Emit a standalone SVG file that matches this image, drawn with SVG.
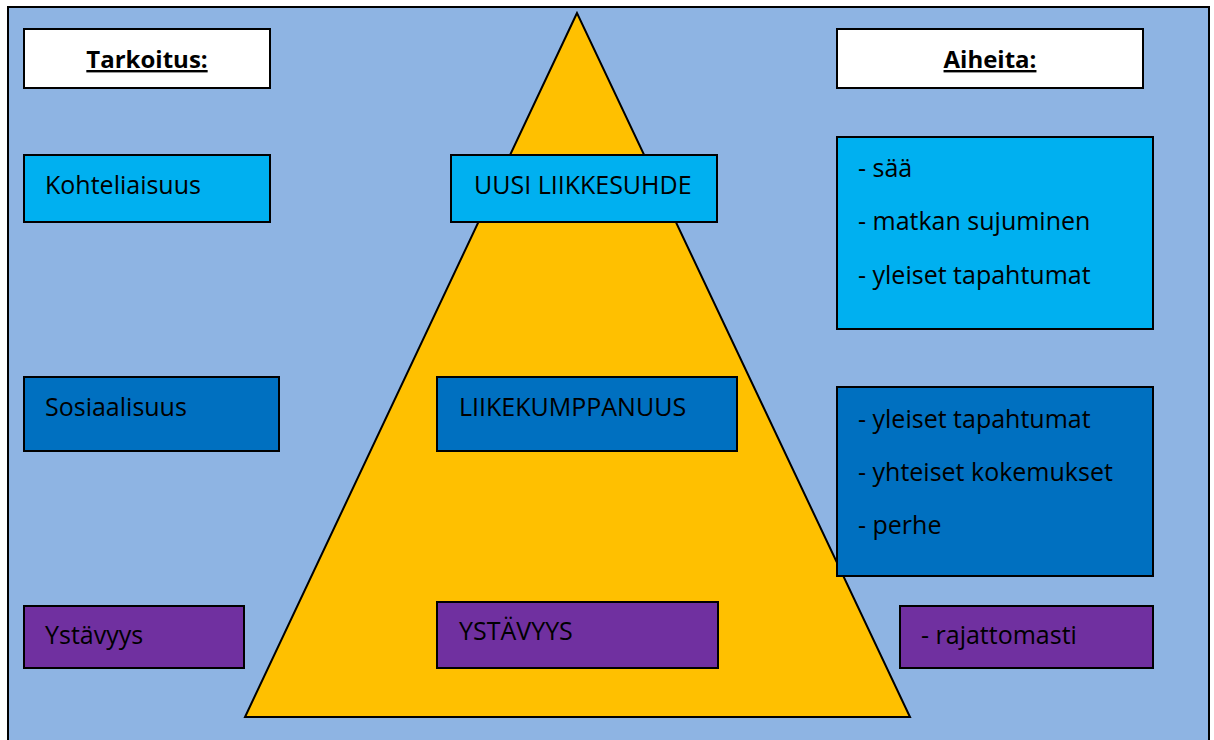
<svg xmlns="http://www.w3.org/2000/svg" width="1214" height="740" viewBox="0 0 1214 740">
<style>
  .box{stroke:#000;stroke-width:2}
  .w{fill:#fff}
  .lb{fill:#00B0F0}
  .db{fill:#0070C0}
  .pu{fill:#7030A0}
  text{font-family:"Open Sans","Liberation Sans",sans-serif;font-size:25px;fill:#000}
  .hd{font-weight:bold;font-size:24px;text-decoration:underline;text-anchor:middle}
</style>
<rect x="8" y="7" width="1201" height="740" fill="#8EB4E3" stroke="#000" stroke-width="2"/>
<g id="pyramid"><polygon points="577,13 245,717 910,717" fill="#FFC000" stroke="#000" stroke-width="2"/></g>
<g id="tarkoitus"><rect class="box w" x="24" y="29" width="246" height="59"/><text class="hd" x="147" y="68">Tarkoitus:</text></g>
<g id="kohteliaisuus"><rect class="box lb" x="24" y="155" width="246" height="67"/><text x="45" y="194">Kohteliaisuus</text></g>
<g id="sosiaalisuus"><rect class="box db" x="24" y="377" width="255" height="74"/><text x="45" y="416">Sosiaalisuus</text></g>
<g id="ystavyys"><rect class="box pu" x="24" y="606" width="220" height="62"/><text x="45" y="644">Ystävyys</text></g>
<g id="uusi"><rect class="box lb" x="451" y="155" width="266" height="67"/><text x="474" y="194">UUSI LIIKKESUHDE</text></g>
<g id="liikekumppanuus"><rect class="box db" x="437" y="377" width="300" height="74"/><text x="459" y="416">LIIKEKUMPPANUUS</text></g>
<g id="ystavyys2"><rect class="box pu" x="437" y="602" width="281" height="66"/><text x="459" y="640">YSTÄVYYS</text></g>
<g id="aiheita"><rect class="box w" x="837" y="29" width="306" height="59"/><text class="hd" x="990" y="68">Aiheita:</text></g>
<g id="aiheet1"><rect class="box lb" x="837" y="137" width="316" height="192"/><text x="858" y="177">- sää</text><text x="858" y="230">- matkan sujuminen</text><text x="858" y="284">- yleiset tapahtumat</text></g>
<g id="aiheet2"><rect class="box db" x="837" y="387" width="316" height="189"/><text x="858" y="428">- yleiset tapahtumat</text><text x="858" y="481">- yhteiset kokemukset</text><text x="858" y="534">- perhe</text></g>
<g id="aiheet3"><rect class="box pu" x="900" y="606" width="253" height="62"/><text x="921" y="644">- rajattomasti</text></g>
<g id="connectors"/>
</svg>
